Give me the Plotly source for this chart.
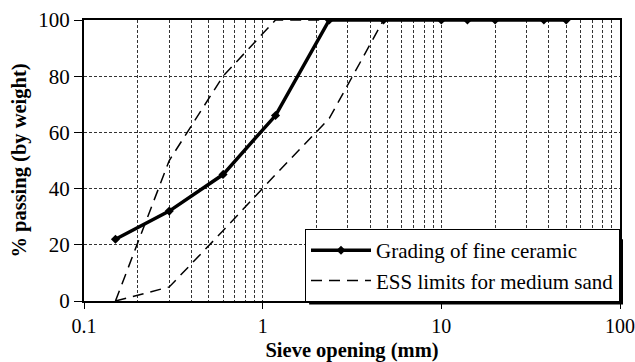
import plotly.graph_objects as go

sieve = [0.15, 0.3, 0.6, 1.18, 2.36, 4.75, 10, 14, 20, 37.5, 50]
ceramic = [22, 32, 45, 66, 100, 100, 100, 100, 100, 100, 100]

ess_sieve = [0.15, 0.3, 0.6, 1.18, 2.36, 4.75]
ess_upper = [0, 50, 80, 100, 100, 100]
ess_lower = [0, 5, 25, 45, 65, 100]

x_ticks = [0.1, 1, 10, 100]
x_ticktext = ["0.1", "1", "10", "100"]
x_minor = [0.2, 0.3, 0.4, 0.5, 0.6, 0.7, 0.8, 0.9, 1,
           2, 3, 4, 5, 6, 7, 8, 9, 10,
           20, 30, 40, 50, 60, 70, 80, 90]
y_ticks = [0, 20, 40, 60, 80, 100]

FONT = "Times New Roman"
GRID = "#333333"

fig = go.Figure()
fig.add_trace(go.Scatter(
    x=sieve, y=ceramic, mode="lines+markers",
    name="Grading of fine ceramic",
    line=dict(color="black", width=3.5),
    marker=dict(symbol="diamond", size=7, color="black"),
))
fig.add_trace(go.Scatter(
    x=ess_sieve, y=ess_upper, mode="lines",
    name="ESS limits for medium sand",
    line=dict(color="black", width=1.5, dash="11px,7px"),
))
fig.add_trace(go.Scatter(
    x=ess_sieve, y=ess_lower, mode="lines",
    name="ESS limits for medium sand", showlegend=False,
    line=dict(color="black", width=1.5, dash="11px,7px"),
))

# drop shadow behind the legend box (legend is drawn on top of shapes)
fig.add_shape(type="rect", xref="paper", yref="paper",
              x0=0.42, x1=1.0056, y0=-0.0125, y1=0.22,
              fillcolor="black", line=dict(width=0), layer="above")

fig.update_layout(
    width=635, height=362,
    margin=dict(l=84, r=15, t=20, b=61, autoexpand=False),
    paper_bgcolor="white", plot_bgcolor="white",
    font=dict(family=FONT, color="black", size=20),
    showlegend=True,
    legend=dict(
        x=1, xanchor="right", y=-0.004, yanchor="bottom",
        bgcolor="white", bordercolor="black", borderwidth=1,
        font=dict(family=FONT, size=21, color="black"),
        itemwidth=60, tracegroupgap=0,
    ),
)

fig.update_xaxes(
    type="log", range=[-1, 2], automargin=False,
    tickvals=x_ticks, ticktext=x_ticktext,
    ticks="outside", ticklen=6, tickwidth=1, tickcolor="black",
    showline=True, linewidth=2, linecolor="black", mirror=True,
    showgrid=False,
    minor=dict(tickvals=x_minor, showgrid=True, gridcolor=GRID,
               griddash="3px,2px", gridwidth=1, ticks=""),
    title=dict(text="<b>Sieve opening (mm)</b>", font=dict(family=FONT, size=20.5), standoff=8),
    tickfont=dict(family=FONT, size=20),
)
fig.update_yaxes(
    range=[0, 100], tickvals=y_ticks, automargin=False,
    ticks="outside", ticklen=8, tickwidth=1, tickcolor="black",
    showline=True, linewidth=2, linecolor="black", mirror=True,
    showgrid=True, gridcolor=GRID, griddash="3px,2px", gridwidth=1,
    zeroline=False,
    title=dict(text="<b>% passing (by weight)</b>", font=dict(family=FONT, size=20.5), standoff=6),
    tickfont=dict(family=FONT, size=21),
)

fig.write_html("out.html")
